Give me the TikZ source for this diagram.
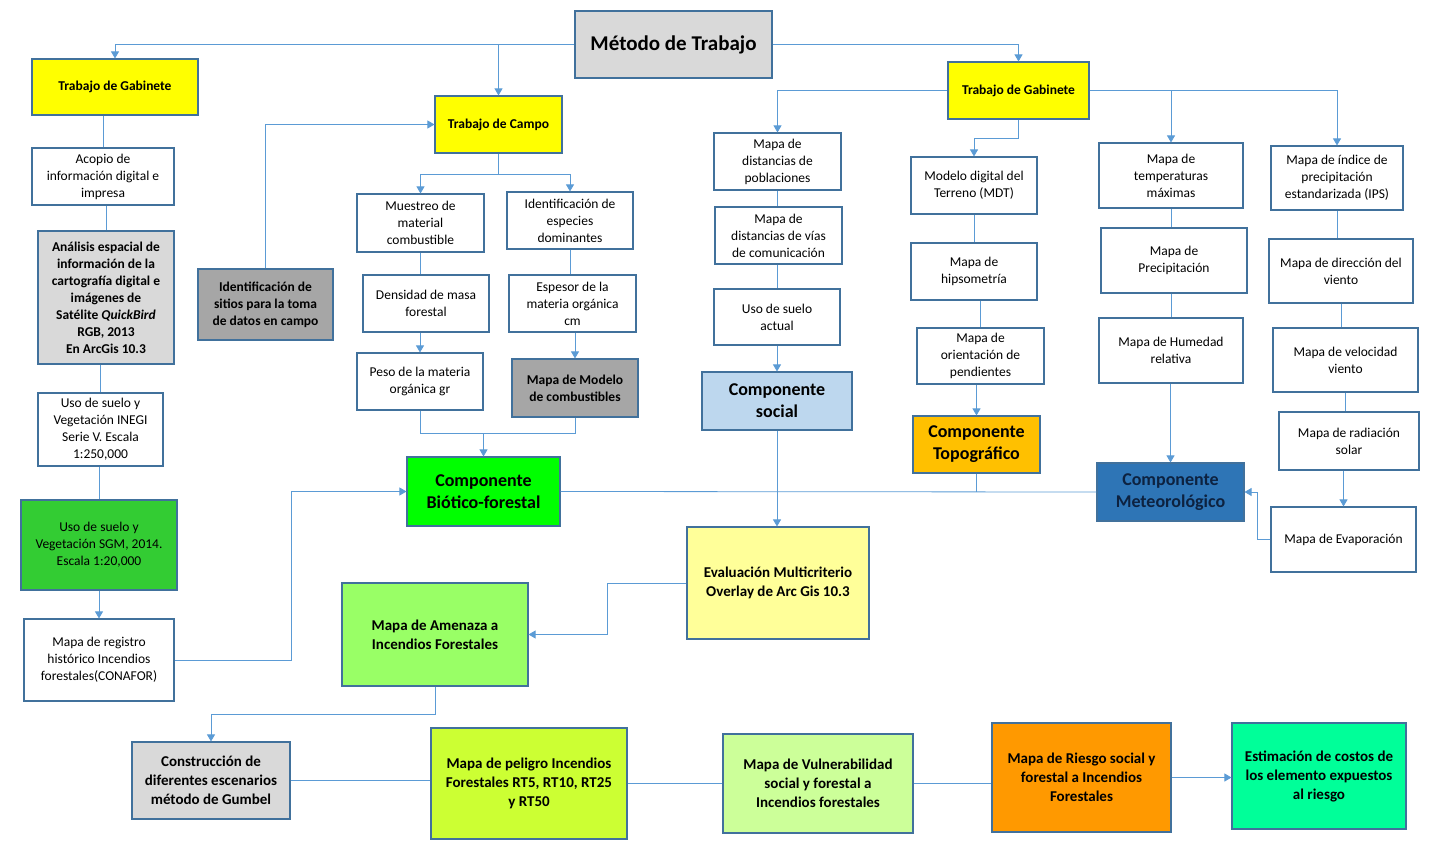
\documentclass[tikz,border=0pt]{standalone}
\usepackage{fontspec}
\setmainfont{Carlito}
\usetikzlibrary{arrows.meta}

\definecolor{borde}{HTML}{41719C}
\definecolor{conector}{HTML}{5B9BD5}
\definecolor{grisclaro}{HTML}{D9D9D9}
\definecolor{grisoscuro}{HTML}{A6A6A6}
\definecolor{amarillo}{HTML}{FFFF00}
\definecolor{amarillopalido}{HTML}{FFFF99}
\definecolor{verde}{HTML}{00FF00}
\definecolor{verdemedio}{HTML}{33CC33}
\definecolor{verdeamenaza}{HTML}{99FF66}
\definecolor{verdelima}{HTML}{CCFF33}
\definecolor{verdepalido}{HTML}{CCFF99}
\definecolor{verdeagua}{HTML}{00FF99}
\definecolor{azulclaro}{HTML}{BDD7EE}
\definecolor{azulmeteo}{HTML}{2E75B6}
\definecolor{textometeo}{HTML}{0D2240}
\definecolor{naranjatopo}{HTML}{FFC000}
\definecolor{naranja}{HTML}{FF9900}

\begin{document}
\begin{tikzpicture}[x=1pt,y=-1pt,
    caja/.style={draw=borde,line width=1.1pt,fill=white,align=center,
      font=\fontsize{13.5}{17}\selectfont},
    negrita/.style={caja,font=\fontsize{13.5}{17}\selectfont\bfseries},
    resultado/.style={caja,font=\fontsize{15}{19}\selectfont\bfseries},
    grande/.style={caja,font=\fontsize{18}{22}\selectfont\bfseries},
    sz/.style 2 args={minimum width=#1pt,minimum height=#2pt},
    linea/.style={draw=conector,line width=0.8pt},
    flecha/.style={linea,-{Triangle[width=8pt,length=7pt]}}]
    \useasboundingbox (0,0) rectangle (1447,850);

    % cabecera
    \node[caja,fill=grisclaro,sz={197}{67},font=\fontsize{21}{25}\selectfont\bfseries] (metodo) at (673.5,44.5) {M\'etodo de Trabajo};
    \node[negrita,fill=amarillo,sz={166}{56}] (gabL) at (115,87) {Trabajo de Gabinete};
    \node[negrita,fill=amarillo,sz={127}{57}] (campo) at (498.5,124.5) {Trabajo de Campo};
    \node[negrita,fill=amarillo,sz={141}{57}] (gabR) at (1018.5,90.5) {Trabajo de Gabinete};

    % columna izquierda
    \node[caja,sz={142}{57}] (acopio) at (103,176.5) {Acopio de\\informaci\'on digital e\\impresa};
    \node[negrita,fill=grisclaro,sz={136}{133}] (analisis) at (106,297.5) {An\'alisis espacial de\\informaci\'on de la\\cartograf\'ia digital e\\im\'agenes de\\Sat\'elite \textit{QuickBird}\\RGB, 2013\\En ArcGis 10.3};
    \node[caja,sz={125}{73}] (inegi) at (100.5,429.5) {Uso de suelo y\\Vegetaci\'on INEGI\\Serie V. Escala\\1:250,000};
    \node[caja,fill=verdemedio,sz={156}{90}] (sgm) at (99,545) {Uso de suelo y\\Vegetaci\'on SGM, 2014.\\Escala 1:20,000};
    \node[caja,sz={150}{82}] (registro) at (99,660) {Mapa de registro\\hist\'orico Incendios\\forestales(CONAFOR)};

    % trabajo de campo
    \node[negrita,fill=grisoscuro,sz={135}{71}] (sitios) at (265.5,304.5) {Identificaci\'on de\\sitios para la toma\\de datos en campo};
    \node[caja,sz={127}{58}] (muestreo) at (420.5,223) {Muestreo de\\material\\combustible};
    \node[caja,sz={126}{57}] (especies) at (570,220.5) {Identificaci\'on de\\especies\\dominantes};
    \node[caja,sz={126}{57}] (densidad) at (426,303.5) {Densidad de masa\\forestal};
    \node[caja,sz={127}{57}] (espesor) at (572.5,303.5) {Espesor de la\\materia org\'anica\\cm};
    \node[caja,sz={126}{57}] (peso) at (420,381.5) {Peso de la materia\\org\'anica gr};
    \node[negrita,fill=grisoscuro,sz={126}{58}] (modelo) at (575,388) {Mapa de Modelo\\de combustibles};
    \node[grande,fill=verde,sz={153}{69}] (biotico) at (483.5,491.5) {Componente\\Bi\'otico-forestal};

    % componente social
    \node[caja,sz={127}{57}] (poblac) at (777.5,161.5) {Mapa de\\distancias de\\poblaciones};
    \node[caja,sz={127}{57}] (vias) at (778.5,235.5) {Mapa de\\distancias de v\'ias\\de comunicaci\'on};
    \node[caja,sz={126}{56}] (usoact) at (777,317) {Uso de suelo\\actual};
    \node[grande,fill=azulclaro,sz={150}{58}] (social) at (777,401) {Componente\\social};
    \node[resultado,fill=amarillopalido,sz={182}{112}] (evalua) at (778,583) {Evaluaci\'on Multicriterio\\Overlay de Arc Gis 10.3};

    % componente topografico
    \node[caja,sz={126}{57}] (mdt) at (974,185.5) {Modelo digital del\\Terreno (MDT)};
    \node[caja,sz={126}{57}] (hipso) at (974,271.5) {Mapa de\\hipsometr\'ia};
    \node[caja,sz={127}{56}] (orient) at (980.5,356) {Mapa de\\orientaci\'on de\\pendientes};
    \node[grande,fill=naranjatopo,sz={127}{57}] (topo) at (976.5,444.5) {Componente\\Topogr\'afico};

    % componente meteorologico
    \node[caja,sz={144}{65}] (temp) at (1171,175.5) {Mapa de\\temperaturas\\m\'aximas};
    \node[caja,sz={146}{65}] (precip) at (1174,260.5) {Mapa de\\Precipitaci\'on};
    \node[caja,sz={144}{65}] (humedad) at (1171,350.5) {Mapa de Humedad\\relativa};
    \node[grande,fill=azulmeteo,text=textometeo,sz={147}{58}] (meteo) at (1170.5,492) {Componente\\Meteorol\'ogico};
    \node[caja,sz={132}{64}] (ips) at (1337,178) {Mapa de \'indice de\\precipitaci\'on\\estandarizada (IPS)};
    \node[caja,sz={144}{64}] (viento) at (1341,271) {Mapa de direcci\'on del\\viento};
    \node[caja,sz={145}{64}] (velocidad) at (1345.5,360) {Mapa de velocidad\\viento};
    \node[caja,sz={140}{58}] (radiacion) at (1349,441) {Mapa de radiaci\'on\\solar};
    \node[caja,sz={145}{65}] (evapor) at (1343.5,539.5) {Mapa de Evaporaci\'on};

    % resultados
    \node[resultado,fill=verdeamenaza,sz={186}{103}] (amenaza) at (435,634.5) {Mapa de Amenaza a\\Incendios Forestales};
    \node[resultado,fill=grisclaro,sz={158}{77}] (gumbel) at (211,780.5) {Construcci\'on de\\diferentes escenarios\\m\'etodo de Gumbel};
    \node[resultado,fill=verdelima,sz={196}{111}] (peligro) at (529,783.5) {Mapa de peligro Incendios\\Forestales RT5, RT10, RT25\\y RT50};
    \node[resultado,fill=verdepalido,sz={190}{99}] (vulner) at (818,783.5) {Mapa de Vulnerabilidad\\social y forestal a\\Incendios forestales};
    \node[resultado,fill=naranja,sz={179}{109}] (riesgo) at (1081.5,777.5) {Mapa de Riesgo social y\\forestal a Incendios\\Forestales};
    \node[resultado,fill=verdeagua,sz={174}{106}] (estima) at (1319,776) {Estimaci\'on de costos de\\los elemento expuestos\\al riesgo};

    % conectores cabecera
    \draw[flecha] (metodo.west) -| (gabL.north);
    \draw[flecha] (metodo.west -| campo.north) -- (campo.north);
    \draw[flecha] (metodo.east) -| (gabR.north);

    % conectores columna izquierda
    \draw[linea] (acopio.north |- gabL.south) -- (acopio.north);
    \draw[linea] (analisis.north |- acopio.south) -- (analisis.north);
    \draw[linea] (inegi.north |- analisis.south) -- (inegi.north);
    \draw[linea] (sgm.north |- inegi.south) -- (sgm.north);
    \draw[flecha] (registro.north |- sgm.south) -- (registro.north);
    \draw[flecha] (registro.east) -- ++(117,0) |- (biotico.west);

    % conectores trabajo de campo
    \draw[flecha] (sitios.north) |- (campo.west);
    \draw[linea] (campo.south) -- ++(0,21) coordinate (cj);
    \draw[flecha] (cj) -| (muestreo.north);
    \draw[flecha] (cj) -| (especies.north);
    \draw[linea] (muestreo.south) -- (muestreo.south |- densidad.north);
    \draw[flecha] (peso.north |- densidad.south) -- (peso.north);
    \draw[linea] (especies.south) -- (especies.south |- espesor.north);
    \draw[flecha] (modelo.north |- espesor.south) -- (modelo.north);
    \draw[linea] (peso.south) -- ++(0,23) coordinate (pj) -| (modelo.south);
    \draw[flecha] (pj -| biotico.north) -- (biotico.north);

    % conectores componente social
    \draw[flecha] (gabR.west) -| (poblac.north);
    \draw[linea] (poblac.south) -- (poblac.south |- vias.north);
    \draw[linea] (usoact.north |- vias.south) -- (usoact.north);
    \draw[flecha] (usoact.south) -- (social.north);
    \draw[flecha] (social.south) -- (social.south |- evalua.north);

    % conectores topografico
    \draw[linea] (gabR.south) -- ++(0,19) coordinate (tj);
    \draw[flecha] (tj) -| (mdt.north);
    \draw[linea] (mdt.south) -- (hipso.north);
    \draw[linea] (orient.north |- hipso.south) -- (orient.north);
    \draw[flecha] (topo.north |- orient.south) -- (topo.north);
    \draw[linea] (topo.south) -- (topo.south |- meteo.west);

    % conectores meteorologico
    \draw[flecha] (gabR.east) -| (ips.north);
    \draw[flecha] (temp.north |- gabR.east) -- (temp.north);
    \draw[linea] (temp.south) -- (temp.south |- precip.north);
    \draw[linea] (humedad.north |- precip.south) -- (humedad.north);
    \draw[flecha] (meteo.north |- humedad.south) -- (meteo.north);
    \draw[linea] (ips.south) -- (ips.south |- viento.north);
    \draw[linea] (viento.south) -- (viento.south |- velocidad.north);
    \draw[linea] (velocidad.south) -- (velocidad.south |- radiacion.north);
    \draw[flecha] (evapor.north |- radiacion.south) -- (evapor.north);
    \draw[flecha] (evapor.west) -- ++(-13,0) |- (meteo.east);

    % union de componentes
    \draw[linea] (biotico.east) -- (meteo.west);

    % conectores resultados
    \draw[flecha] (evalua.west) -- ++(-79,0) |- (amenaza.east);
    \draw[flecha] (amenaza.south) -- ++(0,28) -| (gumbel.north);
    \draw[linea] (gumbel.east) -- (gumbel.east -| peligro.west);
    \draw[linea] (peligro.east) -- (vulner.west);
    \draw[linea] (vulner.east) -- (vulner.east -| riesgo.west);
    \draw[flecha] (riesgo.east) -- (riesgo.east -| estima.west);
\end{tikzpicture}
\end{document}
